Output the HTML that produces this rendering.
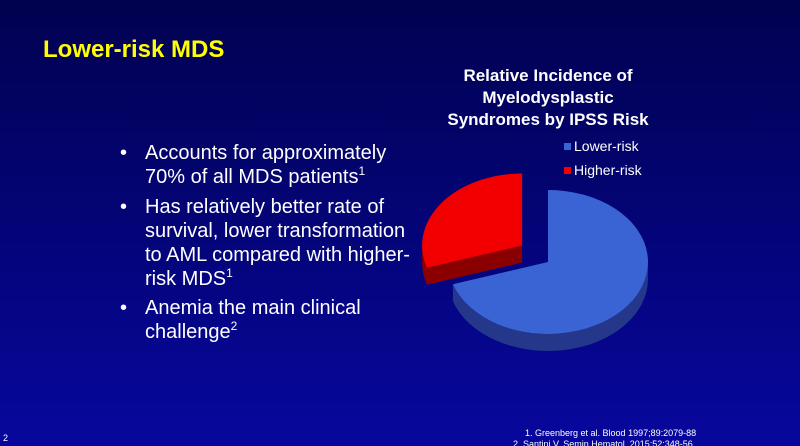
<!DOCTYPE html>
<html><head><meta charset="utf-8"><style>
html,body{margin:0;padding:0;width:800px;height:446px;overflow:hidden;}
svg{display:block;font-family:"Liberation Sans",Arial,sans-serif;}
</style></head><body>
<svg id="slide" width="800" height="446" viewBox="0 0 800 446">
<defs>
<linearGradient id="bg" x1="0" y1="0" x2="0" y2="1">
<stop offset="0" stop-color="#010150"/><stop offset="1" stop-color="#07079e"/>
</linearGradient>
</defs>
<rect width="800" height="446" fill="url(#bg)"/>
<text x="43" y="57" font-size="24" font-weight="bold" fill="#ffff00">Lower-risk MDS</text>
<g fill="#ffffff" font-size="20">
<text x="120" y="159">•</text>
<text x="145" y="159">Accounts for approximately</text>
<text x="145" y="183">70% of all MDS patients<tspan font-size="12" dy="-8">1</tspan></text>
<text x="120" y="213">•</text>
<text x="145" y="213">Has relatively better rate of</text>
<text x="145" y="237">survival, lower transformation</text>
<text x="145" y="261">to AML compared with higher-</text>
<text x="145" y="285">risk MDS<tspan font-size="12" dy="-8">1</tspan></text>
<text x="120" y="314">•</text>
<text x="145" y="314">Anemia the main clinical</text>
<text x="145" y="338">challenge<tspan font-size="12" dy="-8">2</tspan></text>
</g>
<g fill="#ffffff" font-size="17" font-weight="bold" text-anchor="middle">
<text x="548" y="81">Relative Incidence of</text>
<text x="548" y="103">Myelodysplastic</text>
<text x="548" y="125">Syndromes by IPSS Risk</text>
</g>
<g id="legend" font-size="14" fill="#ffffff"></g>
<g id="pie"></g>
<g fill="#ffffff" font-size="9">
<text x="525" y="436">1.  Greenberg et al. Blood 1997;89:2079-88</text>
<text x="513" y="447">2.  Santini V. Semin Hematol. 2015;52:348-56.</text>
</g>
<text x="3" y="441" font-size="9" fill="#ffffff">2</text>
</svg>
<script>
const categories = ["Lower-risk", "Higher-risk"];
const values = [70, 30];
const colors = ["#3a63d4", "#f20000"];
const sideColors = ["#24378a", "#8a0000"];
const explode = [false, true];

const NS = "http://www.w3.org/2000/svg";
const cx = 548, cy = 262, rx = 100, ry = 72, depth = 17;
const total = values.reduce((a, b) => a + b, 0);
function pt(a, ox, oy, dy) { return [cx + ox + rx * Math.sin(a), cy + oy - ry * Math.cos(a) + (dy || 0)]; }
const pie = document.getElementById("pie");
function mk(d, fill) {
  const p = document.createElementNS(NS, "path");
  p.setAttribute("d", d); p.setAttribute("fill", fill); return p;
}
let start = 0;
const slices = [];
values.forEach((v, i) => {
  const sweep = v / total * 2 * Math.PI;
  slices.push({ a0: start, a1: start + sweep, i });
  start += sweep;
});
slices.forEach(s => {
  const mid = (s.a0 + s.a1) / 2;
  const ox = explode[s.i] ? 32 * Math.sin(mid) : 0;
  const oy = explode[s.i] ? -28 * Math.cos(mid) : 0;
  const g = document.createElementNS(NS, "g");
  
  
  const large = (s.a1 - s.a0) > Math.PI ? 1 : 0;
  const c = [cx + ox, cy + oy];
  // side wall along visible (front) arc: angles between 90deg and 270deg
  const f0 = Math.max(s.a0, Math.PI / 2), f1 = Math.min(s.a1, 3 * Math.PI / 2);
  if (f1 > f0) {
    const p0 = pt(f0, ox, oy), p1 = pt(f1, ox, oy);
    const lg = (f1 - f0) > Math.PI ? 1 : 0;
    g.appendChild(mk(`M${p0} A${rx},${ry} 0 ${lg} 1 ${p1} L${p1[0]},${p1[1] + depth} A${rx},${ry} 0 ${lg} 0 ${p0[0]},${p0[1] + depth}Z`, sideColors[s.i]));
  }
  // radial cut face (end edge) visible for exploded slice
  if (explode[s.i]) {
    const e = pt(s.a0, ox, oy);
    g.appendChild(mk(`M${c} L${e} L${e[0]},${e[1] + depth} L${c[0]},${c[1] + depth}Z`, sideColors[s.i]));
  }
  const q0 = pt(s.a0, ox, oy), q1 = pt(s.a1, ox, oy);
  g.appendChild(mk(`M${c} L${q0} A${rx},${ry} 0 ${large} 1 ${q1} Z`, colors[s.i]));
  pie.appendChild(g);
});
const legend = document.getElementById("legend");
categories.forEach((c, i) => {
  const y = 150 + i * 24;
  const r = document.createElementNS(NS, "rect");
  r.setAttribute("x", 564); r.setAttribute("y", y - 7); r.setAttribute("width", 7); r.setAttribute("height", 7);
  r.setAttribute("fill", colors[i]);
  
  
  legend.appendChild(r);
  const t = document.createElementNS(NS, "text");
  t.setAttribute("x", 574); t.setAttribute("y", y + 1); t.textContent = c;
  
  
  legend.appendChild(t);
});
</script>
</body></html>
